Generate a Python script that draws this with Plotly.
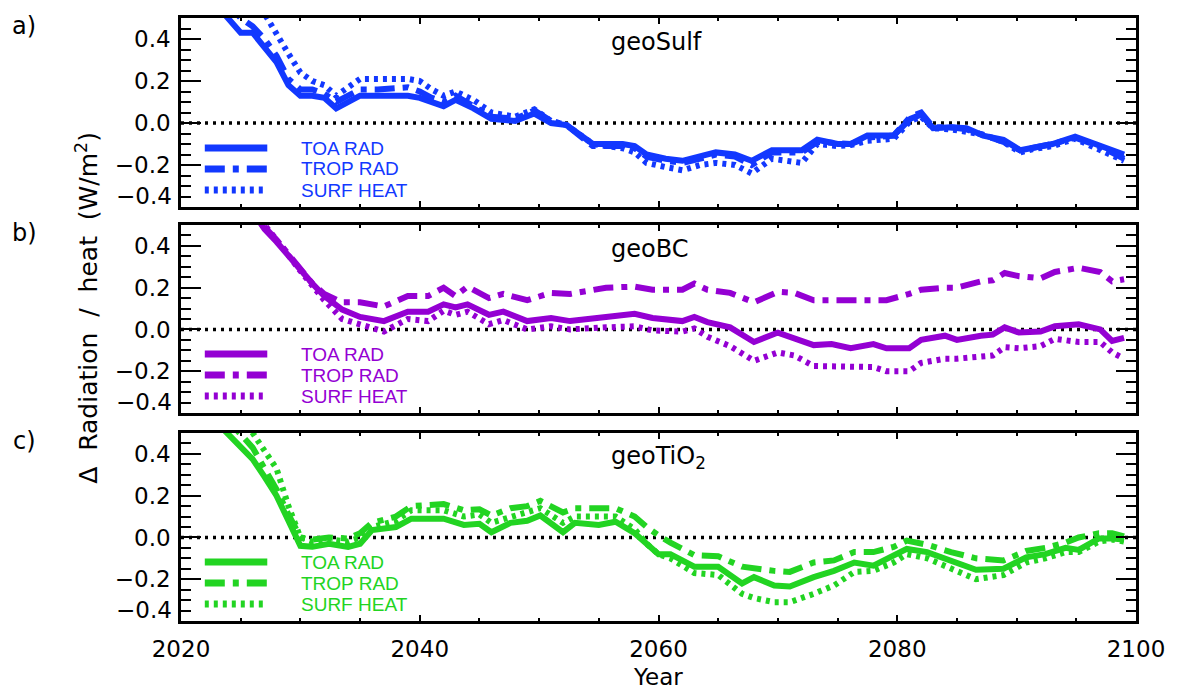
import plotly.graph_objects as go

# ---------------- data ----------------
years_a = [2023, 2024, 2025, 2026, 2027, 2028, 2029, 2030, 2031, 2032, 2033, 2034, 2035, 2036.5, 2038, 2039,
           2040, 2041, 2042, 2043, 2044.5, 2046, 2048, 2049.6, 2051, 2052.3, 2054.5, 2057, 2058, 2059, 2060.6,
           2062, 2063.5, 2064.8, 2066.4, 2067.8, 2069.5, 2071, 2072, 2073.3, 2075, 2076.1, 2077.5, 2079.7,
           2081.1, 2082, 2083, 2084.5, 2085.8, 2087.2, 2088.9, 2090.3, 2091.3, 2093, 2094.9, 2096.9, 2099]
toa_a = [0.56, 0.50, 0.43, 0.43, 0.36, 0.29, 0.18, 0.13, 0.13, 0.12, 0.07, 0.10, 0.13, 0.13, 0.13, 0.13,
         0.12, 0.10, 0.08, 0.11, 0.07, 0.02, 0.01, 0.045, 0.0, -0.01, -0.10, -0.10, -0.11, -0.15, -0.17,
         -0.18, -0.16, -0.14, -0.15, -0.18, -0.13, -0.13, -0.13, -0.08, -0.10, -0.10, -0.06, -0.06,
         0.02, 0.04, -0.025, -0.02, -0.025, -0.06, -0.08, -0.13, -0.12, -0.10, -0.065, -0.105, -0.15]
trop_a = [0.62, 0.56, 0.50, 0.46, 0.40, 0.32, 0.21, 0.16, 0.16, 0.14, 0.10, 0.13, 0.16, 0.16, 0.17, 0.17,
          0.15, 0.12, 0.10, 0.13, 0.08, 0.03, 0.02, 0.06, 0.01, -0.01, -0.11, -0.11, -0.12, -0.16, -0.18,
          -0.19, -0.17, -0.15, -0.16, -0.20, -0.14, -0.14, -0.14, -0.09, -0.10, -0.10, -0.07, -0.06,
          0.03, 0.05, -0.02, -0.02, -0.03, -0.06, -0.09, -0.13, -0.12, -0.10, -0.07, -0.11, -0.17]
surf_a = [0.70, 0.65, 0.60, 0.56, 0.52, 0.42, 0.33, 0.24, 0.20, 0.18, 0.13, 0.17, 0.21, 0.21, 0.21, 0.21,
          0.20, 0.16, 0.13, 0.15, 0.11, 0.05, 0.03, 0.065, 0.01, -0.01, -0.10, -0.12, -0.14, -0.19, -0.21,
          -0.225, -0.20, -0.19, -0.20, -0.24, -0.17, -0.18, -0.19, -0.10, -0.11, -0.105, -0.085, -0.075,
          0.01, 0.03, -0.025, -0.03, -0.04, -0.055, -0.09, -0.14, -0.125, -0.11, -0.075, -0.13, -0.18]

years_b = [2025, 2026, 2027, 2028, 2029, 2030, 2031, 2032, 2033.5, 2035, 2037, 2039, 2040.7, 2042, 2043,
           2044, 2045.8, 2047, 2049, 2051, 2052.6, 2055.6, 2058, 2059.5, 2062, 2063, 2064.1, 2066, 2068,
           2070, 2071.4, 2073, 2074.5, 2076.1, 2078, 2079.1, 2081, 2082, 2084, 2085, 2087, 2088, 2089,
           2090.2, 2092, 2093.2, 2095.2, 2097, 2098, 2099]
toa_b = [0.65, 0.56, 0.48, 0.42, 0.35, 0.28, 0.22, 0.16, 0.095, 0.06, 0.04, 0.085, 0.085, 0.12, 0.105,
         0.12, 0.07, 0.085, 0.04, 0.055, 0.04, 0.06, 0.075, 0.055, 0.04, 0.06, 0.035, 0.01, -0.06,
         -0.015, -0.04, -0.075, -0.07, -0.09, -0.07, -0.09, -0.09, -0.05, -0.03, -0.05, -0.03, -0.025, 0.01,
         -0.015, -0.01, 0.015, 0.025, 0.0, -0.055, -0.04]
trop_b = [0.66, 0.57, 0.49, 0.43, 0.36, 0.29, 0.22, 0.17, 0.13, 0.13, 0.11, 0.16, 0.16, 0.20, 0.16,
          0.205, 0.15, 0.17, 0.14, 0.175, 0.17, 0.20, 0.205, 0.19, 0.19, 0.22, 0.19, 0.175, 0.13,
          0.18, 0.175, 0.14, 0.14, 0.14, 0.14, 0.14, 0.17, 0.19, 0.20, 0.20, 0.23, 0.235, 0.27,
          0.255, 0.245, 0.275, 0.295, 0.275, 0.23, 0.24]
surf_b = [0.67, 0.58, 0.50, 0.43, 0.35, 0.28, 0.21, 0.14, 0.05, 0.025, -0.01, 0.05, 0.04, 0.09, 0.07,
          0.085, 0.025, 0.045, 0.0, 0.015, 0.0, 0.01, 0.015, -0.005, -0.01, 0.005, -0.035, -0.08, -0.15,
          -0.11, -0.125, -0.175, -0.175, -0.175, -0.18, -0.20, -0.20, -0.16, -0.14, -0.14, -0.13, -0.125, -0.085,
          -0.09, -0.08, -0.045, -0.06, -0.06, -0.11, -0.14]

years_c = [2023, 2024, 2025, 2026, 2027, 2028, 2029, 2030, 2031, 2032.4, 2034, 2035, 2036, 2038, 2039.3,
           2042, 2043.7, 2045, 2046, 2047.6, 2049, 2050.1, 2052, 2053, 2055, 2056.4, 2058, 2059, 2060,
           2061, 2063, 2065, 2067, 2068, 2069.7, 2071, 2073, 2074.7, 2076.4, 2078, 2079.7, 2080.8,
           2082.5, 2084.5, 2086.6, 2088.9, 2090.8, 2092.4, 2094.1, 2095.2, 2096.9, 2098, 2099]
toa_c = [0.55, 0.49, 0.43, 0.375, 0.29, 0.20, 0.08, -0.04, -0.045, -0.03, -0.045, -0.03, 0.035, 0.05, 0.09,
         0.09, 0.06, 0.065, 0.025, 0.07, 0.08, 0.105, 0.025, 0.07, 0.06, 0.075, 0.02, -0.03, -0.08,
         -0.08, -0.14, -0.14, -0.22, -0.19, -0.23, -0.235, -0.19, -0.16, -0.12, -0.135, -0.09, -0.055,
         -0.07, -0.11, -0.155, -0.15, -0.095, -0.08, -0.05, -0.06, -0.005, -0.005, -0.01]
trop_c = [0.62, 0.56, 0.50, 0.43, 0.33, 0.23, 0.11, 0.0, -0.01, 0.0, -0.005, 0.02, 0.07, 0.10, 0.15,
          0.16, 0.13, 0.135, 0.105, 0.14, 0.15, 0.175, 0.12, 0.14, 0.14, 0.14, 0.10, 0.05, 0.01,
          -0.025, -0.085, -0.09, -0.14, -0.15, -0.16, -0.165, -0.12, -0.11, -0.07, -0.07, -0.045, -0.015,
          -0.035, -0.07, -0.10, -0.11, -0.065, -0.05, -0.025, 0.0, 0.02, 0.02, 0.005]
surf_c = [0.75, 0.68, 0.60, 0.50, 0.42, 0.33, 0.15, 0.0, -0.02, -0.01, -0.02, 0.0, 0.05, 0.08, 0.13,
          0.13, 0.10, 0.11, 0.07, 0.10, 0.12, 0.14, 0.07, 0.10, 0.10, 0.10, 0.04, -0.03, -0.08,
          -0.10, -0.17, -0.18, -0.27, -0.29, -0.31, -0.31, -0.27, -0.23, -0.165, -0.16, -0.12, -0.08,
          -0.10, -0.15, -0.20, -0.18, -0.12, -0.10, -0.07, -0.07, -0.02, -0.01, -0.02]

scenarios = ["geoSulf", "geoBC", "geoTiO<sub>2</sub>"]
panel_labels = ["a)", "b)", "c)"]
series_names = ["TOA RAD", "TROP RAD", "SURF HEAT"]
x_ticks = [2020, 2040, 2060, 2080, 2100]
y_ticks = [-0.2, 0.0, 0.2, 0.4]
y_ticktext = ["\u22120.2", "0.0", "0.2", "0.4"]
y_bottom_label = "\u22120.4"

# ---------------- styling ----------------
COLORS = ["#1238ff", "#9400d3", "#22d422"]
DASHES = ["solid", "20px,8px,6px,8px", "4px,5px"]
LW = 6
W, H = 1177, 689
L, R, T, B = 181, 33, 18, 68
PW, PH = W - L - R, H - T - B
LABEL_FONT = dict(family="DejaVu Sans", size=23, color="black")


def fx(p):
    return (p - L) / PW


def fy(p):
    return (H - B - p) / PH


panel_px = [(18, 207), (225, 413), (433, 621)]  # top, bottom pixel rows
data = [(years_a, [toa_a, trop_a, surf_a]),
        (years_b, [toa_b, trop_b, surf_b]),
        (years_c, [toa_c, trop_c, surf_c])]

fig = go.Figure()
layout = dict(width=W, height=H, margin=dict(l=L, r=R, t=T, b=B),
              paper_bgcolor="white", plot_bgcolor="white", showlegend=False,
              font=LABEL_FONT)
shapes, annotations = [], []

for i, (yrs, series) in enumerate(data):
    sfx = "" if i == 0 else str(i + 1)
    xa, ya = "x" + sfx, "y" + sfx
    for j, vals in enumerate(series):
        fig.add_trace(go.Scatter(x=yrs, y=vals, mode="lines", name=series_names[j],
                                 line=dict(color=COLORS[i], width=LW, dash=DASHES[j]),
                                 xaxis=xa, yaxis=ya, showlegend=False))
    top, bot = panel_px[i]
    layout["xaxis" + sfx] = dict(
        domain=[0, 1], range=[2020, 2100], anchor=ya, showline=True, linecolor="black",
        linewidth=2.5, mirror="ticks", ticks="inside", ticklen=6, tickwidth=2, tickcolor="black",
        tickvals=x_ticks, showticklabels=(i == 2), ticklabelstandoff=6,
        minor=dict(dtick=5, tick0=2020, ticks="inside", ticklen=3, tickwidth=2, tickcolor="black"),
        showgrid=False, zeroline=False, tickfont=LABEL_FONT)
    layout["yaxis" + sfx] = dict(
        domain=[fy(bot), fy(top)], range=[-0.4, 0.5], anchor=xa, showline=True, linecolor="black",
        linewidth=2.5, mirror="ticks", ticks="inside", ticklen=20, tickwidth=2, tickcolor="black",
        tickvals=y_ticks, ticktext=y_ticktext, ticklabelstandoff=3,
        minor=dict(dtick=0.05, tick0=-0.4, ticks="inside", ticklen=10, tickwidth=2, tickcolor="black"),
        showgrid=False, zeroline=False, tickfont=LABEL_FONT)
    # zero reference line
    shapes.append(dict(type="line", xref=xa + " domain", yref=ya, x0=0, x1=1, y0=0, y1=0,
                       line=dict(color="black", width=3.5, dash="3px,5px"), layer="below"))
    # relocated bottom tick label
    annotations.append(dict(text=y_bottom_label, x=fx(174), y=fy(bot - 11), xref="paper", yref="paper",
                            xanchor="right", yanchor="middle", showarrow=False, font=LABEL_FONT))
    # scenario title
    annotations.append(dict(text=scenarios[i], x=fx(613), y=fy(top + 24), xref="paper", yref="paper",
                            xanchor="left", yanchor="middle", showarrow=False,
                            font=dict(family="DejaVu Sans", size=24, color="black")))
    # panel label
    annotations.append(dict(text=panel_labels[i], x=fx(23), y=fy(top + 8), xref="paper", yref="paper",
                            xanchor="center", yanchor="middle", showarrow=False,
                            font=dict(family="DejaVu Sans", size=24, color="black")))
    # legend
    for j in range(3):
        ypix = bot - 59 + 21 * j
        shapes.append(dict(type="line", xref="paper", yref="paper", x0=fx(205), x1=fx(268),
                           y0=fy(ypix), y1=fy(ypix),
                           line=dict(color=COLORS[i], width=LW + 1, dash=DASHES[j])))
        annotations.append(dict(text=series_names[j], x=fx(300), y=fy(ypix), xref="paper", yref="paper",
                                xanchor="left", yanchor="middle", showarrow=False,
                                font=dict(family="Liberation Sans", size=19, color=COLORS[i])))

annotations.append(dict(text="Year", x=fx(662), y=fy(677), xref="paper", yref="paper",
                        xanchor="center", yanchor="middle", showarrow=False, font=LABEL_FONT))
annotations.append(dict(text="\u0394  Radiation  /  heat  (W/m<sup>2</sup>)", x=fx(86), y=fy(308),
                        xref="paper", yref="paper", xanchor="center", yanchor="middle",
                        textangle=-90, showarrow=False,
                        font=dict(family="DejaVu Sans", size=25, color="black")))

layout["shapes"] = shapes
layout["annotations"] = annotations
fig.update_layout(**layout)
fig.write_html("out.html", config={"displayModeBar": False},
               post_script="document.body.style.margin='0px';")
